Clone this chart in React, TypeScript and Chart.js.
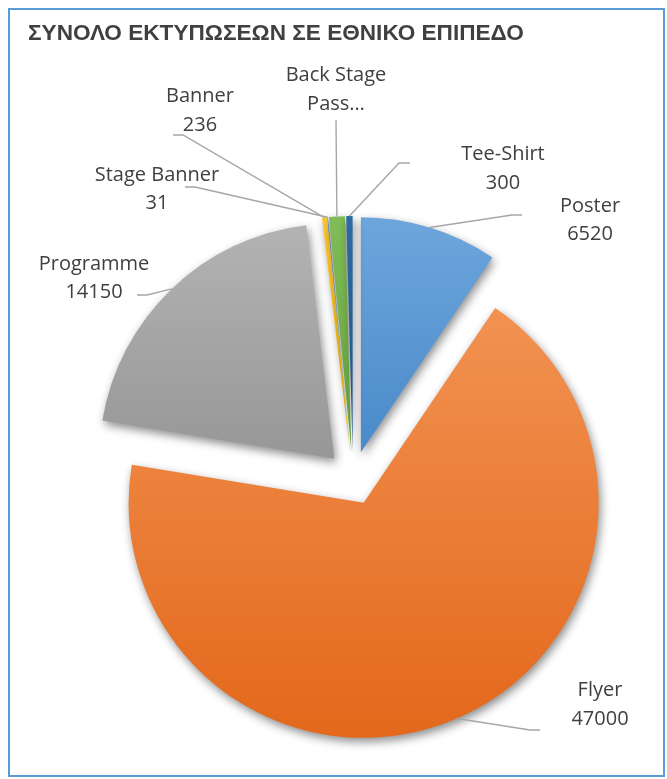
import React, { useEffect, useRef } from 'react';
import { Chart, PieController, ArcElement, Title } from 'chart.js';

// ---------------- data ----------------
const TITLE_TEXT = 'ΣΥΝΟΛΟ ΕΚΤΥΠΩΣΕΩΝ ΣΕ ΕΘΝΙΚΟ ΕΠΙΠΕΔΟ';
const CATEGORIES = ['Poster', 'Flyer', 'Programme', 'Banner', 'Stage Banner', 'Back Stage Pass', 'Tee-Shirt'];
const VALUES = [6520, 47000, 14150, 236, 31, 750, 300];
// Excel truncated this data label
const TRUNCATED_LABELS: Record<string, string[]> = { 'Back Stage Pass': ['Back Stage', 'Pass…'] };

// ---------------- styles ----------------
const COLORS_TOP = ['#6DA6DC', '#F29252', '#B3B3B3', '#FFC933', '#5080CC', '#80BC58', '#2E6AA3'];
const COLORS_BOTTOM = ['#4A8ACA', '#E3681B', '#979797', '#F0B400', '#3B66B2', '#64A03C', '#1F5388'];
const EXPLODE = 27;
const PIE_RADIUS = 235;
const TEXT_COLOR = '#404040';
const LABEL_FONT = '20px "Open Sans"';
const LABEL_LINE_HEIGHT = 28.5;
const CANVAS_W = 678; // wider than the page so the pie centre sits where Excel put it
const CANVAS_H = 779;
const TITLE_SIZE = 22.6;
const TITLE_PAD_TOP = 20.4;

// label layout relative to the pie centre: text block centre, leader-line elbow, horizontal tail
const LABEL_LAYOUT = [
  { text: [237, -259], elbow: [159, -263], tail: 10 },
  { text: [247, 225.5], elbow: [177, 252], tail: 10 },
  { text: [-259, -201], elbow: [-206, -183], tail: -10 },
  { text: [-153, -368.5], elbow: [-170, -343], tail: -10 },
  { text: [-196, -290], elbow: [-158, -291], tail: -10 },
  { text: [-17, -389.5], elbow: [-17, -358], tail: 0 },
  { text: [150, -310.5], elbow: [46, -315], tail: 11 },
];

// ---------------- exploded pie (every slice pulled out along its mid angle) ----------------
class ExplodedArc extends ArcElement {
  draw(ctx: CanvasRenderingContext2D) {
    const self: any = this;
    const mid = (self.startAngle + self.endAngle) / 2;
    ctx.save();
    ctx.translate(Math.cos(mid) * EXPLODE, Math.sin(mid) * EXPLODE);
    super.draw(ctx as any);
    ctx.restore();
  }
}
(ExplodedArc as any).id = 'explodedArc';

class ExplodedPieController extends PieController {}
(ExplodedPieController as any).id = 'explodedPie';
(ExplodedPieController as any).defaults = { dataElementType: 'explodedArc' };

Chart.register(ExplodedArc as any, ExplodedPieController as any, Title);

function sliceYRange(i: number, cy: number, r: number): [number, number] {
  const total = VALUES.reduce((a, b) => a + b, 0);
  const before = VALUES.slice(0, i).reduce((a, b) => a + b, 0);
  const a0 = -Math.PI / 2 + (2 * Math.PI * before) / total;
  const a1 = a0 + (2 * Math.PI * VALUES[i]) / total;
  const ys = [cy, cy + r * Math.sin(a0), cy + r * Math.sin(a1)];
  for (const k of [-Math.PI / 2, Math.PI / 2, (3 * Math.PI) / 2]) {
    if (k > a0 && k < a1) ys.push(cy + r * Math.sin(k));
  }
  return [Math.min(...ys), Math.max(...ys)];
}

const shadowPlugin = {
  id: 'sliceShadow',
  beforeDatasetsDraw(chart: any) {
    const c = chart.ctx;
    c.save();
    c.shadowColor = 'rgba(0,0,0,0.45)';
    c.shadowBlur = 10;
    c.shadowOffsetX = 2;
    c.shadowOffsetY = 4;
  },
  afterDatasetsDraw(chart: any) {
    chart.ctx.restore();
  },
};

const labelPlugin = {
  id: 'excelDataLabels',
  afterDraw(chart: any) {
    const meta = chart.getDatasetMeta(0);
    const ctx: CanvasRenderingContext2D = chart.ctx;
    ctx.save();
    meta.data.forEach((arc: any, i: number) => {
      const { x, y, startAngle, endAngle, outerRadius } = arc;
      const mid = (startAngle + endAngle) / 2;
      const ax = x + Math.cos(mid) * (outerRadius + EXPLODE);
      const ay = y + Math.sin(mid) * (outerRadius + EXPLODE);
      const L = LABEL_LAYOUT[i];
      const ex = x + L.elbow[0];
      const ey = y + L.elbow[1];
      ctx.strokeStyle = '#A6A6A6';
      ctx.lineWidth = 1.4;
      ctx.beginPath();
      ctx.moveTo(ax, ay);
      ctx.lineTo(ex, ey);
      if (L.tail) ctx.lineTo(ex + L.tail, ey);
      ctx.stroke();

      const name = CATEGORIES[i];
      const lines = TRUNCATED_LABELS[name] || [name, String(VALUES[i])];
      ctx.font = LABEL_FONT;
      ctx.fillStyle = TEXT_COLOR;
      ctx.textAlign = 'center';
      ctx.textBaseline = 'alphabetic';
      const tx = x + L.text[0];
      const ty = y + L.text[1];
      lines.forEach((ln, k) => {
        const cyLine = ty + (k - (lines.length - 1) / 2) * LABEL_LINE_HEIGHT;
        ctx.fillText(ln, tx, cyLine + 7);
      });
    });
    ctx.restore();
  },
};

export default function App() {
  const ref = useRef<HTMLCanvasElement | null>(null);

  useEffect(() => {
    if (!ref.current) return;
    const chart = new Chart(ref.current, {
      type: 'explodedPie' as any,
      data: {
        labels: CATEGORIES,
        datasets: [
          {
            data: VALUES,
            borderWidth: 0,
            backgroundColor: (c: any) => {
              const i = c.dataIndex;
              const chart = c.chart;
              const area = chart.chartArea;
              if (!area || i === undefined) return COLORS_TOP[i || 0];
              const cy = (area.top + area.bottom) / 2;
              const [y0, y1] = sliceYRange(i, cy, PIE_RADIUS);
              const g = chart.ctx.createLinearGradient(0, y0, 0, y1);
              g.addColorStop(0, COLORS_TOP[i]);
              g.addColorStop(1, COLORS_BOTTOM[i]);
              return g;
            },
          } as any,
        ],
      },
      options: {
        responsive: false,
        animation: false,
        devicePixelRatio: 1,
        events: [],
        radius: PIE_RADIUS,
        layout: { padding: { left: 28, right: 0, top: 0, bottom: 0 } },
        plugins: {
          legend: { display: false },
          tooltip: { enabled: false },
          title: {
            display: true,
            text: TITLE_TEXT,
            align: 'start',
            color: TEXT_COLOR,
            font: { family: '"Liberation Sans", Arial, sans-serif', size: TITLE_SIZE, weight: 'bold', lineHeight: 1.2 },
            padding: { top: TITLE_PAD_TOP, bottom: 177 - TITLE_PAD_TOP - TITLE_SIZE * 1.2 },
          },
        },
      } as any,
      plugins: [shadowPlugin, labelPlugin],
    });
    return () => chart.destroy();
  }, []);

  return (
    <div style={{ position: 'fixed', left: 0, top: 0, width: 667, height: 779, background: '#fff', overflow: 'hidden' }}>
      <canvas
        ref={ref}
        width={CANVAS_W}
        height={CANVAS_H}
        style={{ position: 'absolute', left: 0, top: 0, width: CANVAS_W, height: CANVAS_H }}
      />
      <div
        style={{
          position: 'absolute',
          left: 8,
          top: 8,
          width: 657,
          height: 769,
          boxSizing: 'border-box',
          border: '2px solid #5B9BD5',
          pointerEvents: 'none',
        }}
      />
    </div>
  );
}
